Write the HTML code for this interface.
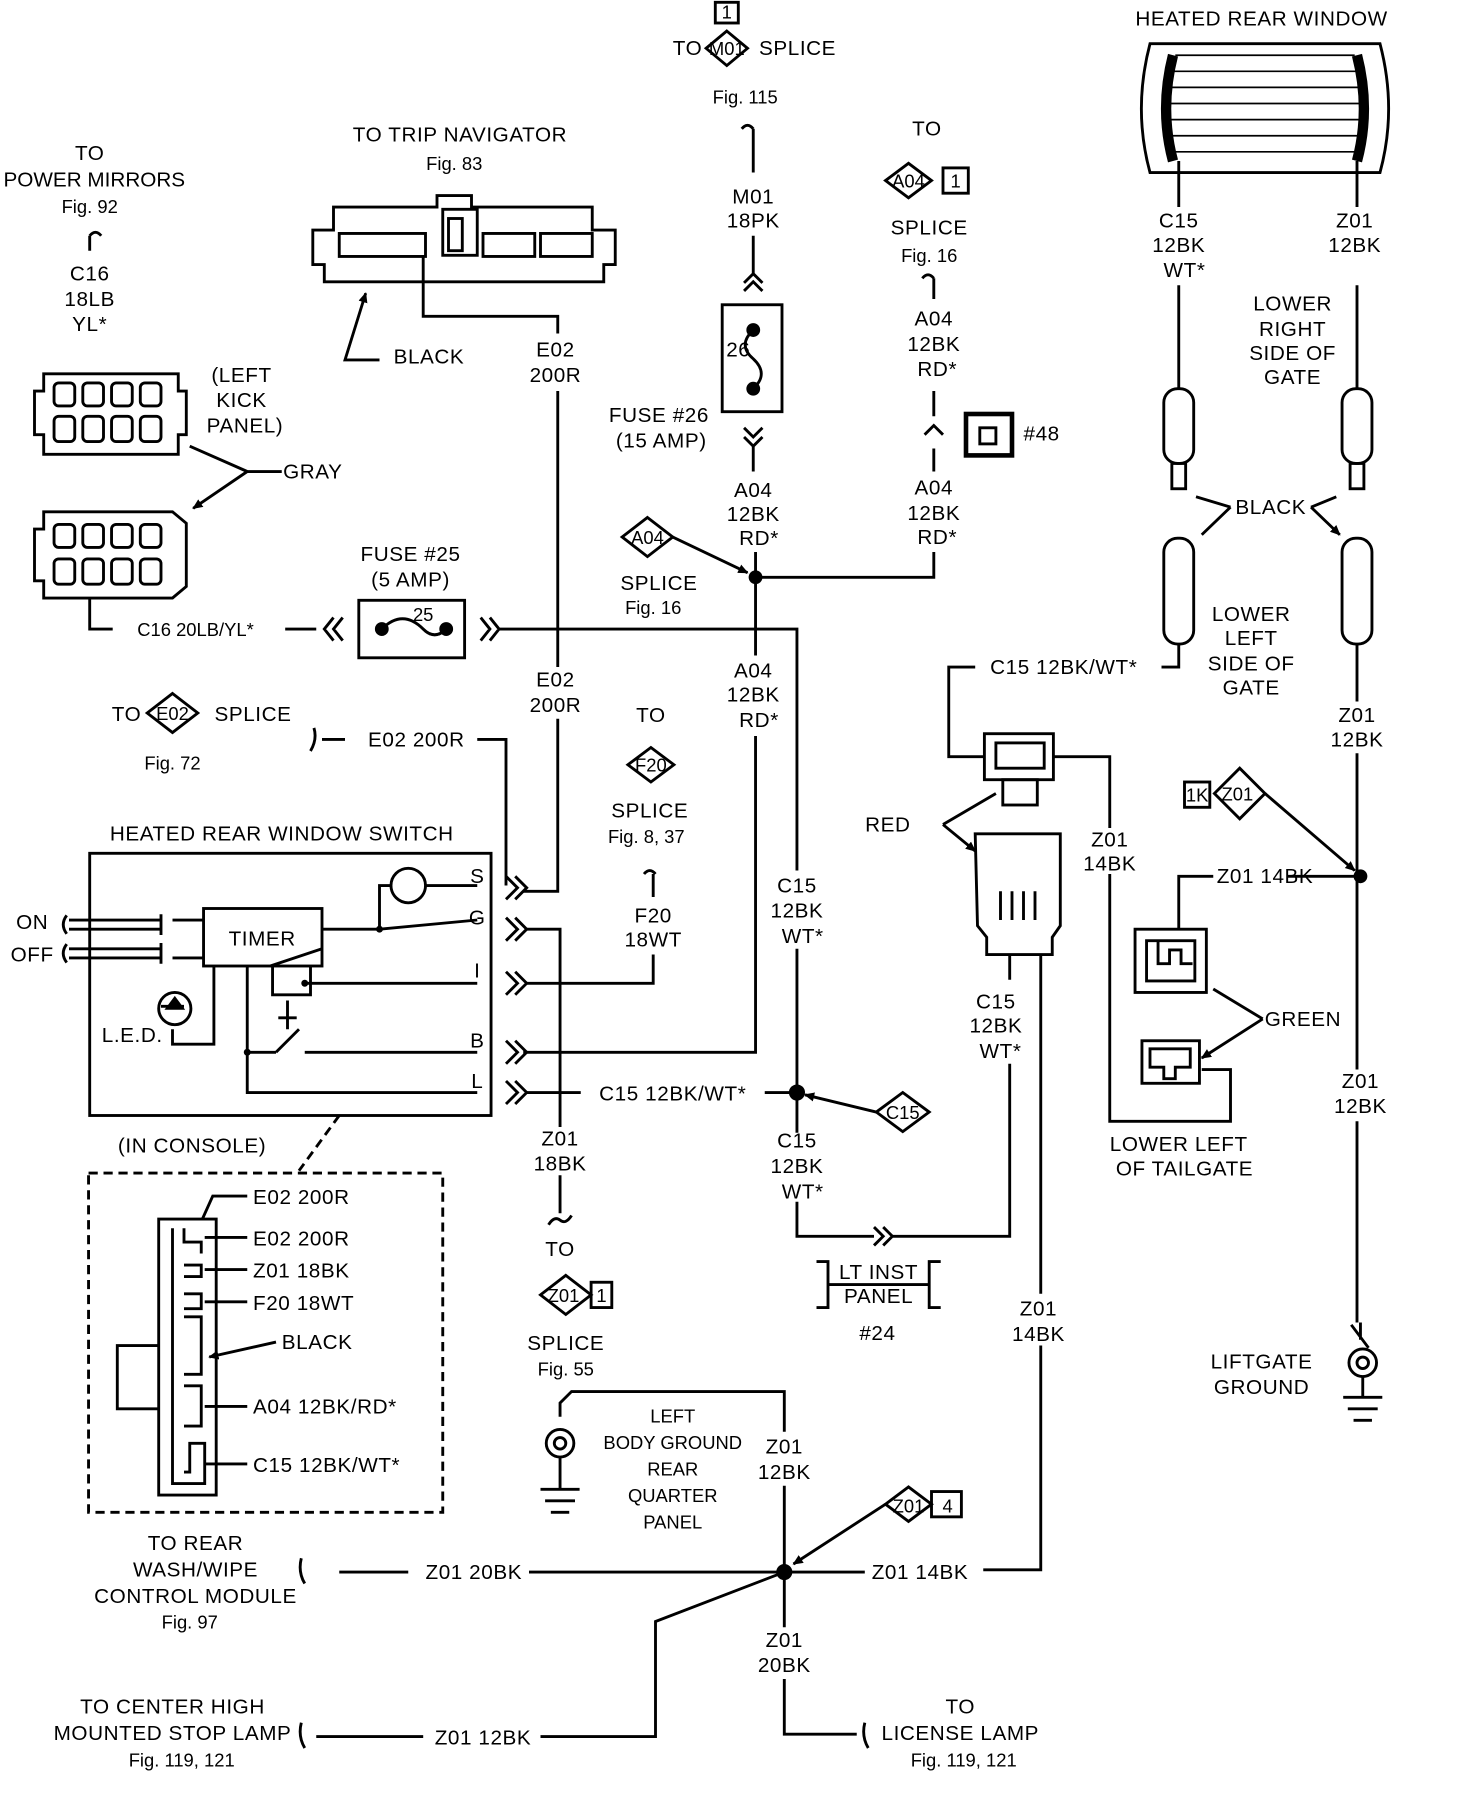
<!DOCTYPE html>
<html><head><meta charset="utf-8"><style>
html,body{margin:0;padding:0;background:#fff;}
svg{display:block}
text{font-family:"Liberation Sans",sans-serif;font-size:18px;fill:#000;text-anchor:middle;letter-spacing:0.5px}
.s{font-size:16px;letter-spacing:0}
.l{text-anchor:start}
.r{text-anchor:end}
</style></head><body>
<svg width="1472" height="1794" viewBox="0 0 1280 1560" xmlns="http://www.w3.org/2000/svg">
<defs>
<marker id="a" markerWidth="10" markerHeight="10" refX="8" refY="5" orient="auto" markerUnits="userSpaceOnUse"><path d="M0,1 L9,5 L0,9 z" fill="#000"/></marker>
</defs>
<g fill="none" stroke="#000" stroke-width="2.5">
<path d="M632,27 L650,42 L632,57 L614,42 Z"/><rect x="622" y="2" width="20" height="18"/>
<path d="M645,112 q5,-6 10,0 M655,112 L655,150"/>
<path d="M655,205 L655,238 M647,246 l8,-8 l8,8 M647,253 l8,-8 l8,8"/>
<rect x="628" y="265" width="52" height="93"/>
<path d="M655,287 q-14,13 0,25 q14,13 0,26"/>
<path d="M647,372 l8,8 l8,-8 M647,380 l8,8 l8,-8 M655,388 L655,410"/>
<path d="M657,480 L657,570 M657,640 L657,915 L455,915"/>
<path d="M657,502 L812,502 L812,480"/>
<path d="M812,410 L812,390 M804,378 l8,-8 l8,8 M812,340 L812,362"/>
<rect x="840" y="360" width="40" height="36" stroke-width="4"/>
<path d="M802,242 q5,-6 10,0 M812,242 L812,260"/>
<path d="M790,142 L810,157 L790,172 L770,157 Z"/><rect x="820" y="146" width="22" height="22"/>
<path d="M563,450 L585,467 L563,484 L541,467 Z"/><path d="M585,467 L650,498" marker-end="url(#a)"/>
<rect x="312" y="522" width="92" height="50"/>
<path d="M332,547 q18,-18 36,0 q10,10 20,0"/>
<path d="M248,547 L275,547 M290,537 l-8,10 l8,10 M298,537 l-8,10 l8,10 M418,537 l8,10 l-8,10 M426,537 l8,10 l-8,10 M434,547 L693,547 L693,757 M693,825 L693,985 M693,1045 L693,1075 L760,1075 M760,1067 l8,8 l-8,8 M768,1067 l8,8 l-8,8 M776,1075 L878,1075 L878,925 M878,852 L878,830"/>
<path d="M78,520 L78,547 L98,547"/>
<path d="M785,950 L808,967 L785,984 L762,967 Z"/><path d="M762,967 L700,952" marker-end="url(#a)"/>
<path d="M272,200 L290,200 L290,180 L380,180 L380,170 L410,170 L410,180 L515,180 L515,200 L535,200 L535,230 L525,230 L525,245 L282,245 L282,230 L272,230 Z"/>
<rect x="295" y="203" width="75" height="20"/><rect x="385" y="182" width="30" height="40"/><rect x="390" y="190" width="12" height="28"/><rect x="420" y="203" width="45" height="20"/><rect x="470" y="203" width="45" height="20"/>
<path d="M368,222 L368,275 L485,275 L485,290"/>
<path d="M330,313 L300,313 L318,255" marker-end="url(#a)"/>
<path d="M485,340 L485,580 M485,625 L485,775 L455,775"/>
<path d="M150,603 L172,620 L150,637 L128,620 Z"/>
<path d="M270,653 q6,-10 3,-20 M280,643 L300,643 M415,643 L440,643 L440,770"/>
<rect x="78" y="742" width="349" height="228"/>
<rect x="177" y="790" width="103" height="50"/>
<circle cx="355" cy="770" r="15"/>
<path d="M280,808 L330,808 L330,770 L340,770 M370,770 L415,770 M330,808 L415,800 M280,825 L235,840 M237,840 L237,865 L270,865 L270,840 M265,855 L415,855 M186,840 L186,908 L150,908 L150,895 M140,875 L160,875 M215,840 L215,915 L240,915 M240,915 L260,895 M265,915 L415,915 M215,915 L215,950 L415,950 M250,870 L250,895 M242,885 L258,885"/>
<circle cx="152" cy="877" r="14"/>
<path d="M60,800 L140,800 M60,808 L140,808 M60,825 L140,825 M60,833 L140,833 M140,795 L140,813 M140,820 L140,838 M150,800 L177,800 M150,833 L177,833"/>
<path d="M58,796 q-6,8 0,16 M58,821 q-6,8 0,16"/>
<path d="M440,762 l10,10 l-10,10 M448,762 l10,10 l-10,10"/>
<path d="M440,798 l10,10 l-10,10 M448,798 l10,10 l-10,10"/>
<path d="M440,845 l10,10 l-10,10 M448,845 l10,10 l-10,10"/>
<path d="M440,905 l10,10 l-10,10 M448,905 l10,10 l-10,10"/>
<path d="M440,940 l10,10 l-10,10 M448,940 l10,10 l-10,10"/>
<path d="M458,808 L487,808 L487,980 M487,1022 L487,1055 M477,1065 q5,-8 10,-4 q5,4 10,-4"/>
<path d="M492,1109 L514,1126 L492,1143 L470,1126 Z"/><rect x="514" y="1115" width="18" height="22"/>
<path d="M458,855 L568,855 L568,830 M560,760 q5,-6 10,0 M568,760 L568,780"/>
<path d="M566,650 L586,665 L566,680 L546,665 Z"/>
<path d="M458,950 L505,950 M665,950 L693,950"/>
<path d="M295,970 L260,1018" stroke-dasharray="8,5"/>
<rect x="77" y="1020" width="308" height="295" stroke-dasharray="8,5"/>
<path d="M138,1060 L188,1060 L188,1300 L138,1300 Z M102,1170 L138,1170 L138,1225 L102,1225 Z"/>
<path d="M150,1068 L150,1290 L178,1290 L178,1255 L165,1255 L165,1280 L160,1280 M160,1068 L160,1080 L175,1080 L175,1090 M160,1100 L175,1100 L175,1110 L160,1110 M160,1125 L175,1125 L175,1138 L160,1138 M160,1145 L175,1145 L175,1195 L160,1195 M160,1205 L175,1205 L175,1240 L160,1240"/>
<path d="M215,1040 L185,1040 L176,1060 M215,1076 L178,1076 M215,1104 L178,1104 M215,1132 L178,1132 M215,1223 L178,1223 M215,1273 L178,1273 M240,1167 L182,1180" marker-end="url(#a)"/>
<path d="M78,205 q5,-6 10,0 M78,205 L78,218"/>
<path d="M30,340 L38,340 L38,325 L155,325 L155,340 L162,340 L162,378 L155,378 L155,395 L38,395 L38,378 L30,378 Z"/>
<path d="M30,460 L38,460 L38,445 L150,445 L162,455 L162,510 L150,520 L38,520 L38,505 L30,505 Z"/>
<rect x="47" y="333" width="18" height="20" rx="4"/><rect x="72" y="333" width="18" height="20" rx="4"/><rect x="97" y="333" width="18" height="20" rx="4"/><rect x="122" y="333" width="18" height="20" rx="4"/>
<rect x="47" y="362" width="18" height="22" rx="4"/><rect x="72" y="362" width="18" height="22" rx="4"/><rect x="97" y="362" width="18" height="22" rx="4"/><rect x="122" y="362" width="18" height="22" rx="4"/>
<rect x="47" y="456" width="18" height="20" rx="4"/><rect x="72" y="456" width="18" height="20" rx="4"/><rect x="97" y="456" width="18" height="20" rx="4"/><rect x="122" y="456" width="18" height="20" rx="4"/>
<rect x="47" y="486" width="18" height="22" rx="4"/><rect x="72" y="486" width="18" height="22" rx="4"/><rect x="97" y="486" width="18" height="22" rx="4"/><rect x="122" y="486" width="18" height="22" rx="4"/>
<path d="M245,410 L215,410 L165,388 M215,410 L168,442" marker-end="url(#a)"/>
<path d="M1000,38 L1200,38 Q1215,95 1200,150 L1000,150 Q985,95 1000,38 Z"/>
<path d="M1022,48 L1178,48 M1018,62 L1182,62 M1016,76 L1184,76 M1015,90 L1185,90 M1015,104 L1185,104 M1016,118 L1184,118 M1020,132 L1180,132" stroke-width="1.5"/>
<path d="M1020,48 Q1008,95 1020,140 M1180,48 Q1192,95 1180,140" stroke-width="9"/>
<path d="M1025,140 L1025,180 M1180,140 L1180,180 M1025,248 L1025,338 M1180,248 L1180,338"/>
<rect x="1012" y="338" width="26" height="65" rx="12"/><rect x="1167" y="338" width="26" height="65" rx="12"/>
<rect x="1019" y="403" width="12" height="22"/><rect x="1174" y="403" width="12" height="22"/>
<path d="M1070,441 L1040,432 M1070,441 L1045,465 M1140,441 L1162,432 M1140,441 L1165,465" marker-end="url(#a)"/>
<rect x="1012" y="468" width="26" height="92" rx="12"/><rect x="1167" y="468" width="26" height="92" rx="12"/>
<path d="M1025,560 L1025,580 L1010,580 M848,580 L825,580 L825,658 L855,658"/>
<path d="M1180,560 L1180,610 M1180,655 L1180,930 M1180,975 L1180,1150"/>
<rect x="856" y="638" width="60" height="40"/><rect x="872" y="678" width="30" height="22"/><rect x="866" y="646" width="42" height="22"/>
<path d="M916,658 L965,658 L965,720 M965,760 L965,975 L1070,975 L1070,930 L1045,930"/>
<path d="M848,725 L922,725 L922,805 L915,815 L915,830 L858,830 L858,815 L850,805 Z M870,775 L870,800 M880,775 L880,800 M890,775 L890,800 M900,775 L900,800"/>
<path d="M820,717 L866,690 M820,717 L848,740" marker-end="url(#a)"/>
<path d="M905,830 L905,1125 M905,1170 L905,1365 L855,1365"/>
<rect x="1030" y="680" width="22" height="22"/><path d="M1078,668 L1100,690 L1078,712 L1056,690 Z"/>
<path d="M1100,690 L1178,757" marker-end="url(#a)"/>
<path d="M1120,762 L1183,762 M1055,762 L1025,762 L1025,808"/>
<rect x="987" y="808" width="62" height="55"/><rect x="997" y="818" width="42" height="35"/><path d="M1007,818 L1007,838 L1017,838 L1017,826 L1027,826 L1027,838 L1037,838"/>
<rect x="993" y="905" width="50" height="37"/><path d="M1000,912 L1035,912 L1035,928 L1022,928 L1022,938 L1012,938 L1012,928 L1000,928 Z"/>
<path d="M1098,886 L1055,860 M1098,886 L1045,920" marker-end="url(#a)"/>
<path d="M1183,1150 L1183,1165 M1175,1152 L1190,1172"/>
<circle cx="1185" cy="1185" r="12"/><circle cx="1185" cy="1185" r="5"/>
<path d="M1185,1197 L1185,1215 M1168,1215 L1202,1215 M1172,1225 L1198,1225 M1177,1235 L1193,1235"/>
<path d="M710,1097 L720,1097 L720,1137 L710,1137 M818,1097 L808,1097 L808,1137 L818,1137 M720,1117 L808,1117"/>
<path d="M487,1232 L487,1220 L497,1210 L682,1210 L682,1245"/>
<circle cx="487" cy="1255" r="12"/><circle cx="487" cy="1255" r="5"/>
<path d="M487,1267 L487,1295 M470,1295 L504,1295 M474,1305 L500,1305 M479,1315 L495,1315"/>
<path d="M682,1292 L682,1415 M682,1460 L682,1508 L745,1508 M755,1520 q-6,-10 -3,-22"/>
<path d="M295,1367 L355,1367 M460,1367 L682,1367 L752,1367"/>
<path d="M265,1377 q-6,-10 -3,-22 M265,1520 q-6,-10 -3,-22 M275,1510 L368,1510"/>
<path d="M470,1510 L570,1510 L570,1410 L682,1367"/>
<path d="M790,1293 L810,1308 L790,1323 L770,1308 Z"/><rect x="810" y="1297" width="26" height="22"/>
<path d="M770,1308 L690,1360" marker-end="url(#a)"/>
</g>
<g fill="#000">
<circle cx="655" cy="287" r="6"/><circle cx="655" cy="338" r="6"/>
<circle cx="657" cy="502" r="6"/>
<circle cx="332" cy="547" r="6"/><circle cx="388" cy="547" r="6"/>
<circle cx="693" cy="950" r="7"/><circle cx="1183" cy="762" r="6"/><circle cx="682" cy="1367" r="7"/>
<circle cx="330" cy="808" r="3"/><circle cx="215" cy="915" r="3"/><circle cx="265" cy="855" r="3"/>
<rect x="852" y="372" width="14" height="14" fill="#fff" stroke="#000" stroke-width="2.5"/>
<path d="M143,878 L161,878 L152,866 Z"/>
</g>
<text x="585" y="48" class="l">TO</text><text x="632" y="48" class="s">M01</text><text x="632" y="16" class="s">1</text><text x="660" y="48" class="l">SPLICE</text>
<text x="648" y="90" class="s">Fig. 115</text>
<text x="655" y="177">M01</text><text x="655" y="198">18PK</text>
<text x="642" y="310">26</text>
<text x="573" y="367">FUSE #26</text><text x="575" y="389">(15 AMP)</text>
<text x="655" y="432">A04</text><text x="655" y="453">12BK</text><text x="660" y="474">RD*</text>
<text x="563" y="473" class="s">A04</text><text x="573" y="513">SPLICE</text><text x="568" y="534" class="s">Fig. 16</text>
<text x="655" y="589">A04</text><text x="655" y="610">12BK</text><text x="660" y="632">RD*</text>
<text x="806" y="118">TO</text><text x="790" y="163" class="s">A04</text><text x="831" y="163" class="s">1</text>
<text x="808" y="204">SPLICE</text><text x="808" y="228" class="s">Fig. 16</text>
<text x="812" y="283">A04</text><text x="812" y="305">12BK</text><text x="815" y="327">RD*</text>
<text x="890" y="383" class="l">#48</text>
<text x="812" y="430">A04</text><text x="812" y="452">12BK</text><text x="815" y="473">RD*</text>
<text x="400" y="123">TO TRIP NAVIGATOR</text><text x="395" y="148" class="s">Fig. 83</text>
<text x="373" y="316">BLACK</text>
<text x="483" y="310">E02</text><text x="483" y="332">200R</text>
<text x="357" y="488">FUSE #25</text><text x="357" y="510">(5 AMP)</text><text x="368" y="540" class="s">25</text>
<text x="170" y="553" class="s">C16 20LB/YL*</text>
<text x="483" y="597">E02</text><text x="483" y="619">200R</text>
<text x="78" y="139">TO</text><text x="82" y="162" style="letter-spacing:0">POWER MIRRORS</text><text x="78" y="185" class="s">Fig. 92</text>
<text x="78" y="244">C16</text><text x="78" y="266">18LB</text><text x="78" y="288">YL*</text>
<text x="210" y="332">(LEFT</text><text x="210" y="354">KICK</text><text x="213" y="376">PANEL)</text>
<text x="272" y="416">GRAY</text>
<text x="110" y="627">TO</text><text x="150" y="626" class="s">E02</text><text x="220" y="627">SPLICE</text><text x="150" y="669" class="s">Fig. 72</text>
<text x="362" y="649">E02 200R</text>
<text x="566" y="628">TO</text><text x="566" y="671" class="s">F20</text>
<text x="565" y="711">SPLICE</text><text x="562" y="733" class="s">Fig. 8, 37</text>
<text x="568" y="802">F20</text><text x="568" y="823">18WT</text>
<text x="693" y="776">C15</text><text x="693" y="798">12BK</text><text x="698" y="820">WT*</text>
<text x="245" y="731">HEATED REAR WINDOW SWITCH</text>
<text x="415" y="768">S</text><text x="415" y="804">G</text><text x="415" y="850">I</text><text x="415" y="911">B</text><text x="415" y="946">L</text>
<text x="228" y="822">TIMER</text>
<text x="28" y="808">ON</text><text x="28" y="836">OFF</text>
<text x="115" y="906">L.E.D.</text>
<text x="585" y="957">C15 12BK/WT*</text>
<text x="785" y="973" class="s">C15</text>
<text x="693" y="998">C15</text><text x="693" y="1020">12BK</text><text x="698" y="1042">WT*</text>
<text x="167" y="1002">(IN CONSOLE)</text>
<text x="487" y="996">Z01</text><text x="487" y="1018">18BK</text>
<text x="487" y="1092">TO</text><text x="490" y="1132" class="s">Z01</text><text x="523" y="1132" class="s">1</text>
<text x="492" y="1174">SPLICE</text><text x="492" y="1196" class="s">Fig. 55</text>
<text x="220" y="1047" class="l">E02 200R</text><text x="220" y="1083" class="l">E02 200R</text><text x="220" y="1111" class="l">Z01 18BK</text><text x="220" y="1139" class="l">F20 18WT</text>
<text x="245" y="1173" class="l">BLACK</text><text x="220" y="1229" class="l">A04 12BK/RD*</text><text x="220" y="1280" class="l">C15 12BK/WT*</text>
<text x="764" y="1112">LT INST</text><text x="764" y="1133">PANEL</text><text x="763" y="1165">#24</text>
<text x="1097" y="22">HEATED REAR WINDOW</text>
<text x="1025" y="198">C15</text><text x="1025" y="219">12BK</text><text x="1030" y="241">WT*</text>
<text x="1178" y="198">Z01</text><text x="1178" y="219">12BK</text>
<text x="1124" y="270">LOWER</text><text x="1124" y="292">RIGHT</text><text x="1124" y="313">SIDE OF</text><text x="1124" y="334">GATE</text>
<text x="1105" y="447">BLACK</text>
<text x="1088" y="540">LOWER</text><text x="1088" y="561">LEFT</text><text x="1088" y="583">SIDE OF</text><text x="1088" y="604">GATE</text>
<text x="925" y="586">C15 12BK/WT*</text>
<text x="1180" y="628">Z01</text><text x="1180" y="649">12BK</text>
<text x="1041" y="697" class="s">1K</text><text x="1076" y="696" class="s">Z01</text>
<text x="772" y="723">RED</text>
<text x="965" y="736">Z01</text><text x="965" y="757">14BK</text>
<text x="1100" y="768">Z01 14BK</text>
<text x="866" y="877">C15</text><text x="866" y="898">12BK</text><text x="870" y="920">WT*</text>
<text x="1133" y="892">GREEN</text>
<text x="1183" y="946">Z01</text><text x="1183" y="968">12BK</text>
<text x="1025" y="1001">LOWER LEFT</text><text x="1030" y="1022">OF TAILGATE</text>
<text x="903" y="1144">Z01</text><text x="903" y="1166">14BK</text>
<text x="1097" y="1190">LIFTGATE</text><text x="1097" y="1212">GROUND</text>
<text x="585" y="1237" class="s">LEFT</text><text x="585" y="1260" class="s">BODY GROUND</text><text x="585" y="1283" class="s">REAR</text><text x="585" y="1306" class="s">QUARTER</text><text x="585" y="1329" class="s">PANEL</text>
<text x="682" y="1264">Z01</text><text x="682" y="1286">12BK</text>
<text x="790" y="1315" class="s">Z01</text><text x="824" y="1315" class="s">4</text>
<text x="170" y="1348">TO REAR</text><text x="170" y="1371">WASH/WIPE</text><text x="170" y="1394">CONTROL MODULE</text><text x="165" y="1416" class="s">Fig. 97</text>
<text x="412" y="1373">Z01 20BK</text><text x="800" y="1373">Z01 14BK</text>
<text x="682" y="1432">Z01</text><text x="682" y="1454">20BK</text>
<text x="150" y="1490">TO CENTER HIGH</text><text x="150" y="1513">MOUNTED STOP LAMP</text><text x="158" y="1536" class="s">Fig. 119, 121</text>
<text x="420" y="1517">Z01 12BK</text>
<text x="835" y="1490">TO</text><text x="835" y="1513">LICENSE LAMP</text><text x="838" y="1536" class="s">Fig. 119, 121</text>
</svg>
</body></html>
